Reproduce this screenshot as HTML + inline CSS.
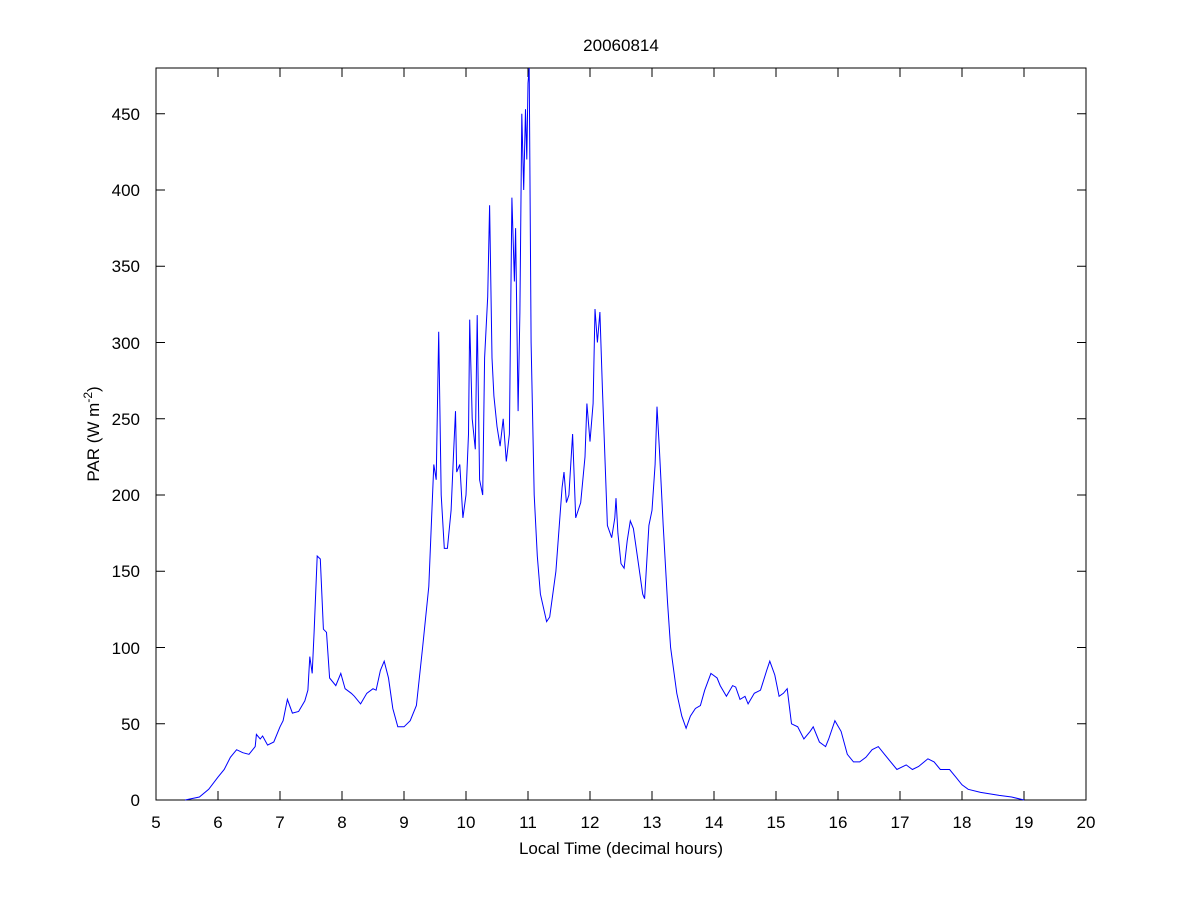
<!DOCTYPE html>
<html><head><meta charset="utf-8"><style>
body{margin:0;background:#fff;width:1200px;height:900px;overflow:hidden}
svg text{font-family:"Liberation Sans",Arial,sans-serif;font-size:17px;fill:#000}
</style></head><body>
<svg id="s" width="1200" height="900" xmlns="http://www.w3.org/2000/svg">
<rect x="0" y="0" width="1200" height="900" fill="#fff"/>
<rect x="156" y="68" width="930" height="732" fill="none" stroke="#000" stroke-width="1"/>
<g id="ticks" stroke="#000" stroke-width="1"></g>
<polyline id="line" fill="none" stroke="#0000ff" stroke-width="1" points=""/>
<g text-anchor="middle">
<text x="156" y="828">5</text><text x="218" y="828">6</text><text x="280" y="828">7</text><text x="342" y="828">8</text><text x="404" y="828">9</text><text x="466" y="828">10</text><text x="528" y="828">11</text><text x="590" y="828">12</text><text x="652" y="828">13</text><text x="714" y="828">14</text><text x="776" y="828">15</text><text x="838" y="828">16</text><text x="900" y="828">17</text><text x="962" y="828">18</text><text x="1024" y="828">19</text><text x="1086" y="828">20</text>
</g>
<g text-anchor="end">
<text x="140" y="806">0</text><text x="140" y="730">50</text><text x="140" y="654">100</text><text x="140" y="577">150</text><text x="140" y="501">200</text><text x="140" y="425">250</text><text x="140" y="349">300</text><text x="140" y="272">350</text><text x="140" y="196">400</text><text x="140" y="120">450</text>
</g>
<text x="621" y="51" text-anchor="middle">20060814</text>
<text x="621" y="854" text-anchor="middle">Local Time (decimal hours)</text>
<text transform="translate(99,434) rotate(-90)" text-anchor="middle">PAR (W m<tspan dy="-7" font-size="12">-2</tspan><tspan dy="7">)</tspan></text>
</svg>
<script>
var d=[5.47,0,5.7,2,5.85,7,6.0,15,6.1,20,6.2,28,6.3,33,6.4,31,6.5,30,6.6,35,6.62,43,6.68,40,6.72,42,6.8,36,6.9,38,7.0,48,7.05,52,7.12,66,7.2,57,7.3,58,7.4,65,7.45,72,7.48,94,7.52,83,7.55,110,7.6,160,7.65,158,7.7,112,7.75,110,7.8,80,7.9,75,7.98,83,8.05,73,8.15,70,8.2,68,8.3,63,8.4,70,8.5,73,8.55,72,8.62,85,8.68,91,8.75,80,8.82,60,8.9,48,9.0,48,9.1,52,9.2,62,9.3,100,9.4,140,9.48,220,9.52,210,9.56,307,9.6,200,9.65,165,9.7,165,9.76,190,9.8,228,9.83,255,9.85,215,9.9,220,9.95,185,10.0,200,10.04,240,10.06,315,10.1,250,10.15,230,10.18,318,10.22,210,10.27,200,10.3,290,10.35,330,10.38,390,10.42,290,10.45,265,10.5,245,10.55,232,10.6,250,10.65,222,10.7,240,10.74,395,10.78,340,10.8,375,10.84,255,10.87,320,10.9,450,10.93,400,10.96,453,10.98,420,11.0,470,11.02,480,11.05,300,11.1,200,11.15,160,11.2,135,11.3,117,11.35,120,11.45,150,11.55,205,11.58,215,11.62,195,11.66,200,11.72,240,11.77,185,11.85,195,11.92,225,11.95,260,12.0,235,12.05,260,12.08,322,12.12,300,12.16,320,12.2,270,12.28,180,12.35,172,12.4,185,12.42,198,12.45,175,12.5,155,12.55,152,12.6,170,12.65,183,12.7,178,12.78,155,12.85,135,12.88,132,12.95,180,13.0,190,13.05,220,13.08,258,13.12,230,13.18,180,13.25,130,13.3,100,13.4,70,13.48,55,13.55,47,13.62,55,13.7,60,13.78,62,13.85,72,13.95,83,14.05,80,14.1,75,14.2,68,14.3,75,14.35,74,14.42,66,14.5,68,14.55,63,14.65,70,14.75,72,14.85,85,14.9,91,14.98,82,15.05,68,15.12,70,15.18,73,15.25,50,15.35,48,15.45,40,15.55,45,15.6,48,15.7,38,15.8,35,15.85,40,15.95,52,16.05,45,16.15,30,16.25,25,16.35,25,16.45,28,16.55,33,16.65,35,16.75,30,16.85,25,16.95,20,17.1,23,17.2,20,17.3,22,17.45,27,17.55,25,17.65,20,17.8,20,17.9,15,18.0,10,18.1,7,18.3,5,18.6,3,18.8,2,19.0,0];
var p=[];for(var i=0;i<d.length;i+=2){p.push((156+(d[i]-5)*62).toFixed(1)+','+(800-d[i+1]*1.525).toFixed(1));}
document.getElementById('line').setAttribute('points',p.join(' '));
var g=document.getElementById('ticks'),h='';
for(var k=0;k<=15;k++){var x=156+62*k;h+='<line x1="'+x+'" y1="800" x2="'+x+'" y2="791"/><line x1="'+x+'" y1="68" x2="'+x+'" y2="77"/>';}
for(var k=0;k<=9;k++){var y=800-76.25*k;h+='<line x1="156" y1="'+y+'" x2="165" y2="'+y+'"/><line x1="1086" y1="'+y+'" x2="1077" y2="'+y+'"/>';}
g.innerHTML=h;
</script>
</body></html>
